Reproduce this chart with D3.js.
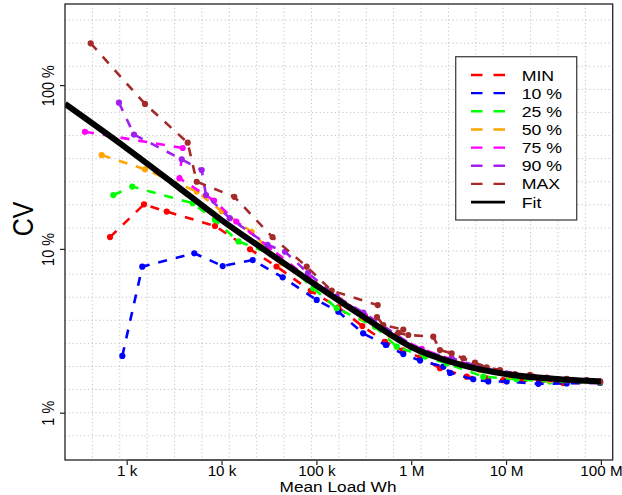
<!DOCTYPE html>
<html lang="en">
<head>
<meta charset="utf-8">
<script src="https://cdnjs.cloudflare.com/ajax/libs/d3/7.8.5/d3.min.js"></script>
<style>
  body { margin: 0; background: #fff; }
  text { font-family: "Liberation Sans", Arial, Helvetica, sans-serif; fill: #000; }
</style>
</head>
<body>
<div id="chart"></div>
<script>
// series: mean load (Wh) and CV (%)
var minLoad = [667, 1522, 2641, 8531, 19960, 38000, 87500, 170300, 305000, 529000, 820000, 1.24e6, 2.01e6, 3.85e6, 6.25e6, 9.35e6, 1.4e7, 2.28e7, 4.0e7, 9.8e7];
var minCV   = [11.8, 18.7, 16.9, 13.8, 9.95, 7.81, 5.53, 4.40, 3.38, 2.71, 2.40, 2.18, 1.87, 1.66, 1.62, 1.58, 1.58, 1.55, 1.52, 1.52];

var p10Load = [899, 1460, 5162, 10285, 21310, 44150, 100800, 170300, 311000, 540000, 825000, 1.24e6, 2.18e6, 2.57e6, 4.51e6, 6.5e6, 1.016e7, 2.19e7, 4.36e7, 9.8e7];
var p10CV   = [2.22, 7.79, 9.40, 7.86, 8.55, 6.71, 4.88, 4.14, 3.05, 2.59, 2.28, 2.08, 1.91, 1.75, 1.60, 1.55, 1.55, 1.50, 1.51, 1.52];

var p25Load = [722, 1146, 4966, 8531, 15100, 41350, 92800, 164000, 415000, 703000, 1.398e6, 2.37e6, 5.75e6, 1.295e7, 2.9e7, 9.8e7];
var p25CV   = [21.3, 24.0, 19.0, 15.0, 11.1, 8.86, 5.75, 4.34, 3.35, 2.53, 2.20, 2.00, 1.66, 1.60, 1.55, 1.53];

var p50Load = [545, 1560, 5471, 10040, 20800, 43090, 96700, 177400, 311000, 597500, 1.24e6, 2.565e6, 5.31e6, 1.1e7, 2.9e7, 9.8e7];
var p50CV   = [37.4, 30.6, 22.4, 17.0, 12.7, 8.17, 6.19, 4.88, 3.79, 2.98, 2.38, 2.04, 1.82, 1.68, 1.58, 1.55];

var p75Load = [363, 3895, 3600, 8330, 14300, 32040, 82170, 164000, 325400, 703000, 1.29e6, 2.69e6, 5.31e6, 1.1e7, 2.9e7, 9.8e7];
var p75CV   = [51.9, 41.3, 27.0, 19.7, 14.7, 10.2, 6.61, 5.11, 3.92, 2.91, 2.45, 2.11, 1.89, 1.72, 1.61, 1.55];

var p90Load = [829, 1194, 3802, 6178, 6857, 12200, 30520, 46690, 81600, 163000, 312400, 703000, 1.24e6, 2.67e6, 5.31e6, 1.016e7, 1.94e7, 4.36e7, 9.8e7];
var p90CV   = [78.1, 49.9, 35.2, 30.3, 21.3, 15.4, 10.6, 9.61, 7.13, 5.11, 4.09, 2.98, 2.41, 2.15, 1.91, 1.74, 1.66, 1.58, 1.55];

var maxLoad = [417, 1560, 4397, 5471, 13630, 34450, 79060, 145000, 443400, 435600, 507700, 825000, 730800, 931600, 1.709e6, 2.01e6, 2.67e6, 3.54e6, 4.7e6, 6.25e6, 8.63e6, 1.243e7, 1.79e7, 2.68e7, 4.36e7, 7.09e7, 9.8e7];
var maxCV   = [180, 76.7, 44.5, 25.7, 20.8, 11.8, 7.79, 5.56, 4.54, 3.84, 3.43, 3.22, 3.07, 2.98, 2.91, 2.41, 2.30, 2.15, 2.02, 1.89, 1.82, 1.72, 1.70, 1.64, 1.61, 1.58, 1.55];

var fitLoad = [224, 1000, 3162, 10000, 31623, 1e5, 3.162e5, 1e6, 3.162e6, 1e7, 3.162e7, 1e8];
var fitCV   = [76.7, 41.1, 24.9, 15.0, 9.44, 5.98, 3.84, 2.52, 1.98, 1.72, 1.61, 1.55];

var seriesNames  = ["MIN", "10 %", "25 %", "50 %", "75 %", "90 %", "MAX"];
var seriesColors = ["#ff0000", "#0000ff", "#00ff00", "#ffa500", "#ff00ff", "#a020f0", "#a52a2a"];

var xTicks = [1e3, 1e4, 1e5, 1e6, 1e7, 1e8];
var xTickLabels = ["1 k", "10 k", "100 k", "1 M", "10 M", "100 M"];
var yTicks = [1, 10, 100];
var yTickLabels = ["1 %", "10 %", "100 %"];

(function() {
    var width = 622, height = 495;
    var left = 65, right = 612.7, top = 4, bottom = 460;
    var stretch = 1.15; // the figure is a bit wider than tall

    var svg = d3.select("#chart").append("svg")
        .attr("width", width)
        .attr("height", height);

    svg.append("rect").attr("width", width).attr("height", height).attr("fill", "#fff");

    var x = d3.scaleLog().domain([Math.pow(10, 2.3494), Math.pow(10, 8.1244)]).range([left, right]);
    var y = d3.scaleLog().domain([Math.pow(10, -0.2888), Math.pow(10, 2.4951)]).range([bottom, top]);

    // dotted grid
    var grid = svg.append("g")
        .attr("stroke", "#c4c4c4")
        .attr("stroke-width", 1)
        .attr("stroke-dasharray", "1.2,2.6");
    for (var i = 1; i < 20; i++) {
        var gx = left + i * (right - left) / 20;
        grid.append("line").attr("x1", gx).attr("x2", gx).attr("y1", top).attr("y2", bottom);
    }
    for (var k = -1; k <= 17; k++) {
        var gy = y(Math.pow(10, k * 0.141));
        grid.append("line").attr("x1", left).attr("x2", right).attr("y1", gy).attr("y2", gy);
    }

    svg.append("defs").append("clipPath").attr("id", "plotclip")
        .append("rect").attr("x", left).attr("y", top).attr("width", right - left).attr("height", bottom - top);

    var plot = svg.append("g").attr("clip-path", "url(#plotclip)");

    var allLoads = [minLoad, p10Load, p25Load, p50Load, p75Load, p90Load, maxLoad];
    var allCVs = [minCV, p10CV, p25CV, p50CV, p75CV, p90CV, maxCV];

    var line = d3.line()
        .x(function(d) { return x(d[0]); })
        .y(function(d) { return y(d[1]); });

    allLoads.forEach(function(loads, s) {
        var pts = loads.map(function(v, j) { return [v, allCVs[s][j]]; });
        var g = plot.append("g");
        g.append("path")
            .datum(pts)
            .attr("d", line)
            .attr("fill", "none")
            .attr("stroke", seriesColors[s])
            .attr("stroke-width", 2.6)
            .attr("stroke-dasharray", "9,9");
        g.selectAll("circle")
            .data(pts)
            .enter().append("circle")
            .attr("cx", function(d) { return x(d[0]); })
            .attr("cy", function(d) { return y(d[1]); })
            .attr("r", 3.1)
            .attr("fill", seriesColors[s]);
    });

    // fit on top of everything
    var fitPts = fitLoad.map(function(v, j) { return [v, fitCV[j]]; });
    plot.append("path")
        .datum(fitPts)
        .attr("d", d3.line().x(function(d) { return x(d[0]); }).y(function(d) { return y(d[1]); }).curve(d3.curveMonotoneX))
        .attr("fill", "none")
        .attr("stroke", "#000")
        .attr("stroke-width", 6);

    // box
    svg.append("rect")
        .attr("x", left).attr("y", top)
        .attr("width", right - left).attr("height", bottom - top)
        .attr("fill", "none")
        .attr("stroke", "#222")
        .attr("stroke-width", 1.3);

    // x axis
    var xAxis = d3.axisBottom(x)
        .tickValues(xTicks)
        .tickSize(5)
        .tickFormat(function(d, i) { return xTickLabels[i]; });
    var gx2 = svg.append("g").attr("transform", "translate(0," + bottom + ")").call(xAxis);
    gx2.select(".domain").remove();
    gx2.selectAll(".tick line").attr("stroke", "#222").attr("stroke-width", 1.2);
    gx2.selectAll(".tick text")
        .attr("y", 16).attr("dy", 0)
        .attr("font-size", 14.8)
        .attr("font-family", null)
        .attr("transform", "scale(1.03,1)");
    svg.append("line")
        .attr("x1", x(xTicks[0])).attr("x2", x(xTicks[xTicks.length - 1]))
        .attr("y1", bottom).attr("y2", bottom)
        .attr("stroke", "#555").attr("stroke-width", 2.2);

    // y axis
    var yAxis = d3.axisLeft(y)
        .tickValues(yTicks)
        .tickSize(5)
        .tickFormat(function(d, i) { return yTickLabels[i]; });
    var gy2 = svg.append("g").attr("transform", "translate(" + left + ",0)").call(yAxis);
    gy2.select(".domain").remove();
    gy2.selectAll(".tick line").attr("stroke", "#222").attr("stroke-width", 1.2);
    gy2.selectAll(".tick text")
        .attr("x", 0).attr("y", 0).attr("dy", 0)
        .attr("text-anchor", "middle")
        .attr("font-size", 14.5)
        .attr("font-family", null)
        .attr("transform", "translate(-11.5,0) scale(" + stretch + ",1) rotate(-90)");

    // axis titles
    svg.append("text")
        .attr("text-anchor", "middle")
        .attr("font-size", 15)
        .attr("transform", "translate(338,491.5) scale(" + stretch + ",1)")
        .text("Mean Load Wh");
    svg.append("text")
        .attr("text-anchor", "middle")
        .attr("font-size", 25)
        .attr("transform", "translate(33,219) scale(" + stretch + ",1) rotate(-90)")
        .text("CV");

    // legend
    var lg = svg.append("g");
    lg.append("rect")
        .attr("x", 455.7).attr("y", 56.7)
        .attr("width", 121).attr("height", 163.3)
        .attr("fill", "#fff")
        .attr("stroke", "#444")
        .attr("stroke-width", 1.3);
    var legendNames = seriesNames.concat(["Fit"]);
    legendNames.forEach(function(name, i) {
        var ly = 75 + i * 18.15;
        var isFit = i === seriesNames.length;
        lg.append("line")
            .attr("x1", 471).attr("x2", 505)
            .attr("y1", ly).attr("y2", ly)
            .attr("stroke", isFit ? "#000" : seriesColors[i])
            .attr("stroke-width", isFit ? 2.8 : 2.4)
            .attr("stroke-dasharray", isFit ? null : "11.5,11");
        lg.append("text")
            .attr("font-size", 15.4)
            .attr("transform", "translate(521.7," + (ly + 5.5) + ") scale(" + stretch + ",1)")
            .text(name);
    });
})();
</script>
</body>
</html>
